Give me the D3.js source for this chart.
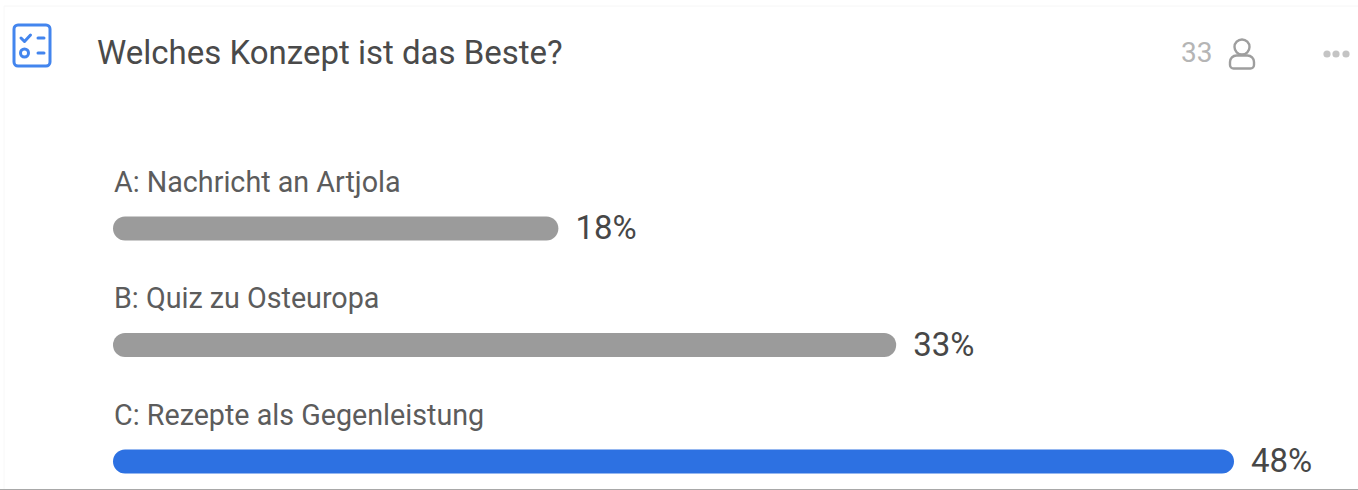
<!DOCTYPE html>
<html>
<head>
<meta charset="utf-8">
<script src="https://cdn.jsdelivr.net/npm/d3@7/dist/d3.min.js"></script>
<style>
html,body{margin:0;padding:0;background:#fff;}
svg{display:block;font-family:Roboto,sans-serif;}
</style>
</head>
<body>
<svg id="poll" width="1358" height="490"></svg>
<script>
// Poll results
const pollTitle = "Welches Konzept ist das Beste?";
const respondents = "33";
const options = ["A: Nachricht an Artjola", "B: Quiz zu Osteuropa", "C: Rezepte als Gegenleistung"];
const shares = [18, 33, 48];
const barColors = ["#9b9b9b", "#9b9b9b", "#2d71e2"];

const svg = d3.select("#poll");

// Card edges
svg.append("line").attr("x1", 4).attr("x2", 1358).attr("y1", 6).attr("y2", 6).attr("stroke", "#f6f6f6");
svg.append("line").attr("x1", 4).attr("x2", 4).attr("y1", 6).attr("y2", 490).attr("stroke", "#f8f8f8");
svg.append("line").attr("x1", 0).attr("x2", 1358).attr("y1", 489.5).attr("y2", 489.5).attr("stroke", "#a8a8a8");

// Checklist icon
const icon = svg.append("g").attr("transform", "translate(14,25)")
  .attr("fill", "none").attr("stroke", "#4385ee").attr("stroke-linecap", "round").attr("stroke-linejoin", "round");
icon.append("rect").attr("width", 36).attr("height", 41).attr("rx", 4).attr("stroke-width", 3);
icon.append("path").attr("d", "M7 13 l3.5 3.5 l6 -6.5").attr("stroke-width", 3);
icon.append("path").attr("d", "M24 13 h6 M24 28 h6").attr("stroke-width", 3);
icon.append("circle").attr("cx", 10.5).attr("cy", 28).attr("r", 4).attr("stroke-width", 3);

// Heading
svg.append("text").attr("x", 97).attr("y", 64).attr("font-size", 33).attr("fill", "#4a4a4a").text(pollTitle);

// Respondent count and person icon
svg.append("text").attr("x", 1181).attr("y", 62).attr("font-size", 28).attr("fill", "#b5b5b5").text(respondents);
const person = svg.append("g").attr("fill", "none").attr("stroke", "#9e9e9e").attr("stroke-width", 2.4);
person.append("circle").attr("cx", 1242).attr("cy", 47).attr("r", 7.5);
person.append("path").attr("d", "M1230 65 v-3 a6.5 6.5 0 0 1 6.5 -6.5 h11 a6.5 6.5 0 0 1 6.5 6.5 v3 a3.5 3.5 0 0 1 -3.5 3.5 h-17 a3.5 3.5 0 0 1 -3.5 -3.5 z");

// Overflow menu dots
svg.append("g").attr("fill", "#c4c4c4").selectAll("circle").data([1327, 1336, 1346]).join("circle")
  .attr("cx", d => d).attr("cy", 54).attr("r", 3.6);

// Bars start from a fixed rounded cap; the scale places their right ends
const barStart = 113;
const x = d3.scaleLinear().domain([0, 48]).range([153, 1234]);
const y = d3.scalePoint().domain(options).range([228.5, 461.5]);
const barHeight = 24;

const rows = svg.append("g").selectAll("g")
  .data(options.map((label, i) => ({label, share: shares[i], color: barColors[i]})))
  .join("g");

rows.append("text")
  .attr("x", barStart + 1)
  .attr("y", d => y(d.label) - 37)
  .attr("font-size", 28.7)
  .attr("fill", "#5c5c5c")
  .text(d => d.label);

rows.append("rect")
  .attr("x", barStart)
  .attr("y", d => y(d.label) - barHeight / 2)
  .attr("width", d => x(d.share) - barStart)
  .attr("height", barHeight)
  .attr("rx", barHeight / 2)
  .attr("fill", d => d.color);

rows.append("text")
  .attr("x", d => x(d.share) + 17)
  .attr("y", d => y(d.label) + 10.5)
  .attr("font-size", 33)
  .attr("fill", "#474747")
  .text(d => d.share + "%");
</script>
</body>
</html>
